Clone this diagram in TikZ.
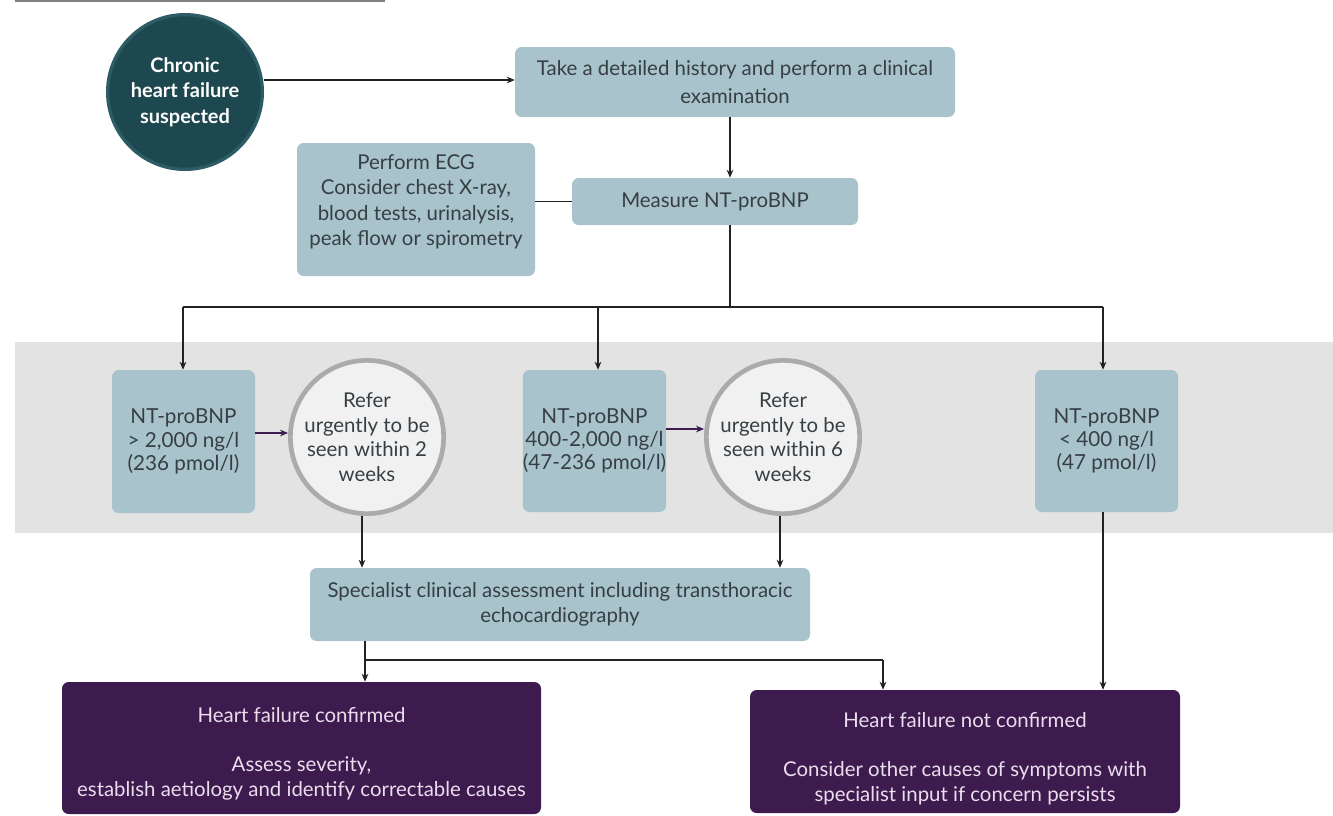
\documentclass[tikz,border=0pt]{standalone}
\usepackage{fontspec}
\setmainfont{Lato}
\usetikzlibrary{arrows.meta,positioning,calc}
\definecolor{boxfill}{HTML}{A8C3CB}
\definecolor{darkteal}{HTML}{1E4850}
\definecolor{tealring}{HTML}{2C5C64}
\definecolor{band}{HTML}{E3E3E3}
\definecolor{purp}{HTML}{3E1B4E}
\definecolor{purptext}{HTML}{EADDEC}
\definecolor{ringgray}{HTML}{ABABAB}
\definecolor{circfill}{HTML}{F1F1F1}
\definecolor{txt}{HTML}{363F44}
\definecolor{linec}{HTML}{222222}
\tikzset{
  x=0.75pt, y=-0.75pt,
  every node/.style={font=\fontsize{15.3}{18.5}\selectfont, text=txt},
  tealbox/.style={fill=boxfill, rounded corners=5pt, align=center, inner sep=0pt},
  purpbox/.style={fill=purp, rounded corners=5pt, inner sep=0pt},
  purptxt/.style={align=center, inner sep=0pt, text=purptext, font=\fontsize{15.3}{18.75}\selectfont},
  refercirc/.style={circle, draw=ringgray, line width=3.5pt, fill=circfill, align=center, inner sep=0pt, minimum size=112pt},
  startcirc/.style={circle, draw=tealring, line width=2.5pt, fill=darkteal, align=center, inner sep=0pt, minimum size=116pt, text=white, font=\fontsize{15}{19}\selectfont\bfseries},
  conn/.style={draw=linec, line width=1pt},
  arr/.style={conn, -{Stealth[length=6pt,width=5pt]}},
  parr/.style={draw=purp, line width=1pt, -{Stealth[length=6pt,width=5pt]}}
}
\begin{document}
\begin{tikzpicture}
\useasboundingbox (0,0) rectangle (1333,815);
% top rule
\draw[draw=gray, line width=1pt] (15,1) -- (385,1);
% band
\fill[band] (15,342) rectangle (1333,533);

\node[startcirc] (start) at (185,92) {Chronic\\heart failure\\suspected};
\node[tealbox, minimum width=330pt, minimum height=52.5pt, font=\fontsize{15.3}{21}\selectfont] (hist) at (735,82) {Take a detailed history and perform a clinical\\examination};
\node[tealbox, minimum width=214.5pt, minimum height=35.25pt] (nt) at (715,201.5) {Measure NT-proBNP};
\node[tealbox, minimum width=178.5pt, minimum height=99.75pt, font=\fontsize{15.3}{19}\selectfont] (ecg) at (416,209.5) {Perform ECG\\Consider chest X-ray,\\blood tests, urinalysis,\\peak flow or spirometry\\[-10.5pt]\strut};

\node[tealbox, minimum width=107.25pt, minimum height=107.25pt, font=\fontsize{15.5}{17.5}\selectfont] (hi) at (183.5,441.5) {NT-proBNP\\> 2,000 ng/l\\(236 pmol/l)};
\node[refercirc] (r2) at (367,437) {Refer\\urgently to be\\seen within 2\\weeks};
\node[tealbox, minimum width=107.25pt, minimum height=106.5pt, font=\fontsize{15.5}{17.5}\selectfont] (mid) at (594.5,441) {NT-proBNP\\400-2,000 ng/l\\(47-236 pmol/l)};
\node[refercirc] (r6) at (783,437) {Refer\\urgently to be\\seen within 6\\weeks};
\node[tealbox, minimum width=107.25pt, minimum height=106.5pt, font=\fontsize{15.5}{17.5}\selectfont] (lo) at (1106.5,441) {NT-proBNP\\< 400 ng/l\\(47 pmol/l)};

\node[tealbox, minimum width=375pt, minimum height=54.75pt] (spec) at (560,604.5) {Specialist clinical assessment including transthoracic\\echocardiography};

\node[purpbox, minimum width=359.25pt, minimum height=99pt] (conf) at (301.5,748) {};
\node[purptxt, anchor=north] (conftxt) at (301.5,707) {Heart failure confirmed\\[18pt]Assess severity,\\establish aetiology and identify correctable causes};
\node[purpbox, minimum width=322.5pt, minimum height=92.25pt] (notc) at (965,751.5) {};
\node[purptxt, anchor=north] (notctxt) at (965,712) {Heart failure not confirmed\\[18pt]Consider other causes of symptoms with\\specialist input if concern persists};

% connectors
\draw[arr] (start.east |- 0,80) -- (hist.west |- 0,80);
\draw[arr] (hist.south -| 730,0) -- (nt.north -| 730,0);
\draw[conn] (ecg.east |- nt.west) -- (nt.west);
\coordinate (split) at (730,307);
\draw[conn] (nt.south -| split) -- (split);
\draw[conn] (183,307) -- (1103,307);
\draw[arr] (183,307) -- (hi.north -| 183,0);
\draw[arr] (598,307) -- (mid.north -| 598,0);
\draw[arr] (1103,307) -- (lo.north -| 1103,0);
\draw[parr] (hi.east |- 0,433) -- (r2.west |- 0,433);
\draw[parr] (mid.east |- 0,429) -- (r6.west |- 0,429);
\draw[arr] (r2.south -| 362,0) -- (spec.north -| 362,0);
\draw[arr] (r6.south -| 780,0) -- (spec.north -| 780,0);
\coordinate (split2) at (365,660);
\draw[conn] (spec.south -| split2) -- (split2) -- (883,660);
\draw[arr] (split2) -- (conf.north -| split2);
\draw[arr] (883,660) -- (notc.north -| 883,0);
\draw[arr] (lo.south -| 1103,0) -- (notc.north -| 1103,0);
\end{tikzpicture}
\end{document}
